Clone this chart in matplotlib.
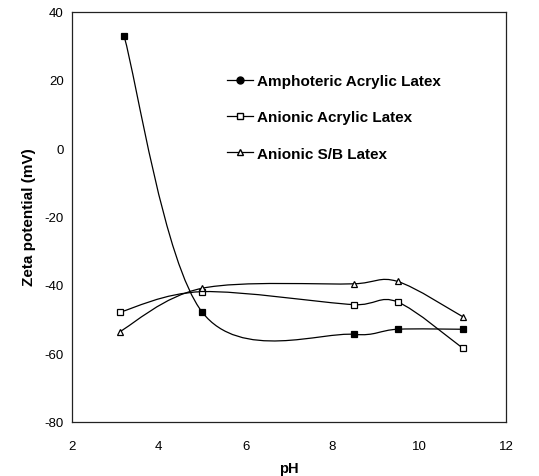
import numpy as np
import matplotlib
matplotlib.use("Agg")
import matplotlib.pyplot as plt
from matplotlib.path import Path
from matplotlib.patches import PathPatch
from matplotlib.lines import Line2D

plt.rcParams['font.family'] = ['Liberation Sans', 'DejaVu Sans']
plt.rcParams['axes.unicode_minus'] = False

# Data
amph_ph = [3.2, 5.0, 8.5, 9.5, 11.0]
amph_zeta = [32.8, -48.0, -54.5, -53.0, -53.0]
anion_ph = [3.1, 5.0, 8.5, 9.5, 11.0]
anion_zeta = [-48.0, -42.0, -45.8, -45.0, -58.5]
sb_ph = [3.1, 5.0, 8.5, 9.5, 11.0]
sb_zeta = [-53.7, -41.0, -39.7, -39.0, -49.3]

labels = ["Amphoteric Acrylic Latex", "Anionic Acrylic Latex", "Anionic S/B Latex"]
xticks = [2, 4, 6, 8, 10, 12]
yticks = [-80, -60, -40, -20, 0, 20, 40]


def smooth_path(ax, x, y):
    """Excel-style smoothed line: cubic Bezier with tangents computed in display space."""
    d = ax.transData.transform(np.column_stack([x, y]).astype(float))
    n = len(d)

    def tangent(i):
        a = d[i - 1] if i > 0 else d[i]
        b = d[i + 1] if i + 1 < n else d[i]
        v = b - a
        L = np.hypot(*v)
        if L == 0:
            return np.zeros(2), 0.0, 0.0
        base = L / 6.0
        m_in = base if i == 0 else min(base, np.hypot(*(d[i] - d[i - 1])) / 2.0)
        m_out = base if i + 1 >= n else min(base, np.hypot(*(d[i + 1] - d[i])) / 2.0)
        return v / L, m_in, m_out

    verts = [d[0]]
    codes = [Path.MOVETO]
    for i in range(n - 1):
        u0, _, mo = tangent(i)
        u1, mi, _ = tangent(i + 1)
        c1 = d[i] + u0 * mo
        c2 = d[i + 1] - u1 * mi
        verts += [c1, c2, d[i + 1]]
        codes += [Path.CURVE4] * 3
    verts = ax.transData.inverted().transform(np.array(verts))
    return Path(verts, codes)


fig = plt.figure(figsize=(5.39, 4.77), dpi=100)
ax = fig.add_axes([72 / 539, 1 - 422.5 / 477, (506 - 72) / 539, (422.5 - 12.5) / 477])
ax.set_xlim(2, 12)
ax.set_ylim(-80, 40)

series = [
    (amph_ph, amph_zeta, dict(marker='s', markerfacecolor='black', markersize=5)),
    (anion_ph, anion_zeta, dict(marker='s', markerfacecolor='white', markersize=5)),
    (sb_ph, sb_zeta, dict(marker='^', markerfacecolor='white', markersize=5)),
]
for xs, ys, mk in series:
    ax.add_patch(PathPatch(smooth_path(ax, xs, ys), facecolor='none', edgecolor='black', lw=0.9, zorder=2))
    ax.plot(xs, ys, linestyle='none', markeredgecolor='black', markeredgewidth=0.9, zorder=3, **mk)

ax.set_xticks(xticks)
ax.set_yticks(yticks)
ax.tick_params(length=0, labelsize=9.5)
ax.tick_params(axis='x', pad=13)
ax.tick_params(axis='y', pad=6)
for s in ax.spines.values():
    s.set_color('#222222')
    s.set_linewidth(0.9)

ax.set_xlabel('pH', fontsize=10.5, fontweight='bold', labelpad=7)
ax.set_ylabel('Zeta potential (mV)', fontsize=11, fontweight='bold', labelpad=6)

handles = [
    Line2D([], [], color='black', lw=0.9, marker='o', markerfacecolor='black', markersize=5),
    Line2D([], [], color='black', lw=0.9, marker='s', markerfacecolor='white', markersize=5),
    Line2D([], [], color='black', lw=0.9, marker='^', markerfacecolor='white', markersize=5),
]
leg = ax.legend(handles, labels, loc='upper left', bbox_to_anchor=(0.358, 0.847),
                frameon=False, handlelength=1.7, handletextpad=0.25, labelspacing=1.45,
                borderaxespad=0, borderpad=0,
                prop={'weight': 'bold', 'size': 11})

fig.savefig('out.png', dpi=100)
